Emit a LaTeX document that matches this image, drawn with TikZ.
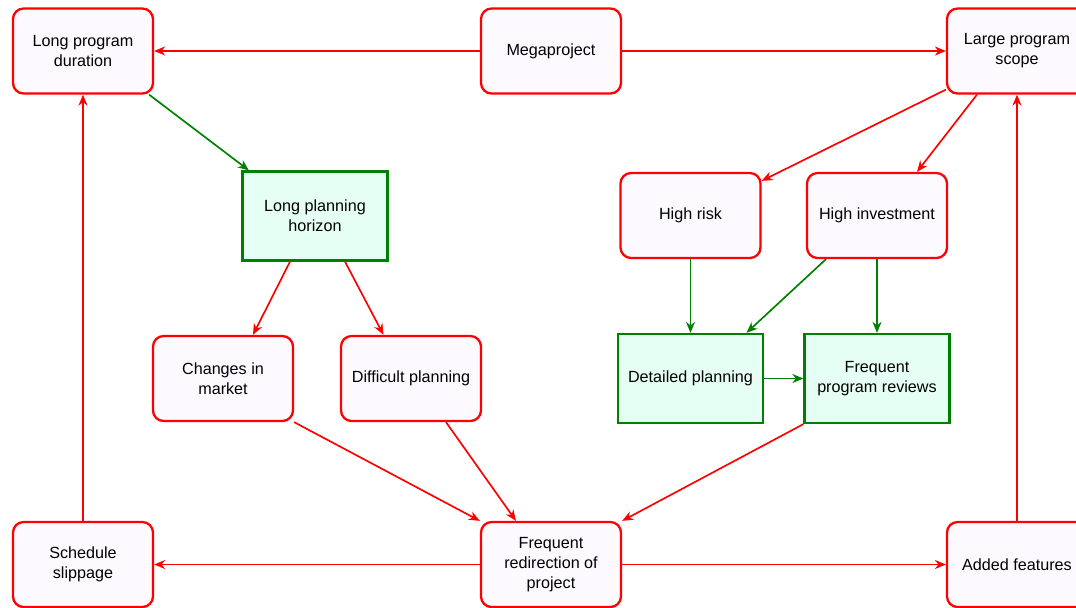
\documentclass[tikz,border=0pt]{standalone}
\usepackage{fontspec}
\setmainfont{Liberation Sans}
\usepackage{tikz}
\usetikzlibrary{arrows.meta,positioning,calc}

\definecolor{boxred}{RGB}{255,0,0}
\definecolor{boxgreen}{RGB}{0,128,0}
\definecolor{redfill}{RGB}{252,250,255}
\definecolor{greenfill}{RGB}{230,255,245}

\begin{document}
\begin{tikzpicture}[
  effect/.style={draw=boxred, fill=redfill, line width=1.3pt, rounded corners=6pt,
    minimum width=2.80cm, minimum height=1.70cm, align=center,
    font=\fontsize{9.2}{11.4}\selectfont},
  remedy/.style={effect, draw=boxgreen, fill=greenfill, rounded corners=0pt,
    minimum width=2.90cm, minimum height=1.78cm},
  arr/.style={-{Stealth[length=2.2mm,width=1.8mm]}, line width=0.95pt, draw=boxred},
  garr/.style={arr, draw=boxgreen}
]
  \useasboundingbox (0,0) rectangle (21.52,-12.14);
  \node[effect] (lpd) at (1.66,-1.02) {Long program\\duration};
  \node[effect] (mega) at (11.02,-1.02) {Megaproject};
  \node[effect] (lps) at (20.34,-1.02) {Large program\\scope};
  \node[remedy] (lph) at (6.30,-4.32) {Long planning\\horizon};
  \node[effect] (risk) at (13.81,-4.31) {High risk};
  \node[effect] (inv) at (17.54,-4.31) {High investment};
  \node[effect] (cim) at (4.46,-7.57) {Changes in\\market};
  \node[effect] (dp) at (8.22,-7.57) {Difficult planning};
  \node[remedy] (det) at (13.81,-7.57) {Detailed planning};
  \node[remedy] (rev) at (17.54,-7.57) {Frequent\\program reviews};
  \node[effect] (sched) at (1.66,-11.29) {Schedule\\slippage};
  \node[effect] (fr) at (11.02,-11.29) {Frequent\\redirection of\\project};
  \node[effect] (added) at (20.34,-11.29) {Added features};
  \draw[arr] (mega) -- (lpd);
  \draw[arr] (mega) -- (lps);
  \draw[garr] ([xshift=-0.1cm]lpd.south east) -- ([xshift=0.15cm]lph.north west);
  \draw[arr] ([yshift=0.1cm]lps.south west) -- ([yshift=-0.18cm]risk.north east);
  \draw[arr] ([xshift=-0.8cm]lps.south) -- ([xshift=0.8cm]inv.north);
  \draw[arr] ([xshift=-0.5cm]lph.south) -- ([xshift=0.6cm]cim.north);
  \draw[arr] ([xshift=0.6cm]lph.south) -- ([xshift=-0.55cm]dp.north);
  \draw[garr] (risk.south) -- (det.north);
  \draw[garr] ([xshift=-1.02cm]inv.south) -- ([xshift=1.12cm]det.north);
  \draw[garr] (inv.south) -- (rev.north);
  \draw[garr] (det.east) -- (rev.west);
  \draw[arr] (cim.south east) -- (fr.north west);
  \draw[arr] ([xshift=0.7cm]dp.south) -- ([xshift=-0.7cm]fr.north);
  \draw[arr] (rev.south west) -- (fr.north east);
  \draw[arr] (fr) -- (sched);
  \draw[arr] (fr) -- (added);
  \draw[arr] (sched) -- (lpd);
  \draw[arr] (added) -- (lps);
\end{tikzpicture}
\end{document}
